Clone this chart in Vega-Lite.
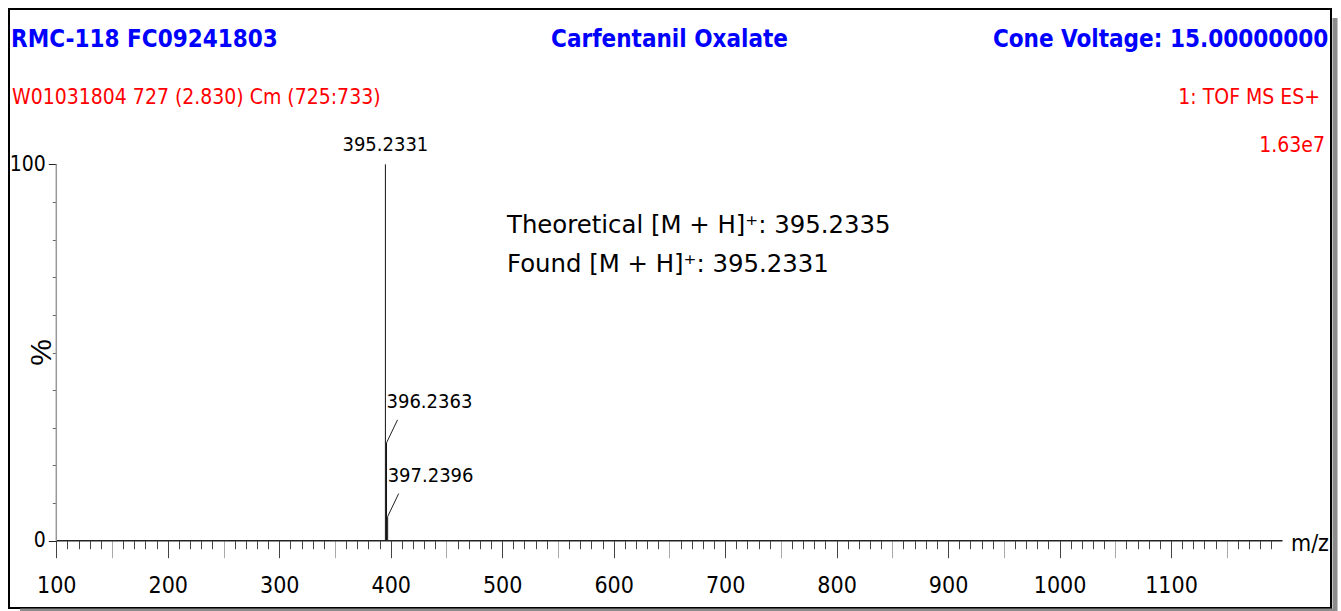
{
  "$schema": "https://vega.github.io/schema/vega-lite/v6.json",
  "width": 1322,
  "height": 599,
  "autosize": {"type": "none"},
  "padding": {"left": 9, "top": 9, "right": 10, "bottom": 3},
  "background": "white",
  "config": {"view": {"stroke": "black", "strokeWidth": 2}},
  "datasets": {
    "peaks": [
      {"mz": 395.2331, "intensity": 100, "label": "395.2331"},
      {"mz": 396.2363, "intensity": 26, "label": "396.2363"},
      {"mz": 397.2396, "intensity": 6.4, "label": "397.2396"}
    ]
  },
  "layer": [
    {
      "data": {"name": "peaks"},
      "mark": {"type": "rule", "color": "#111", "strokeWidth": 1},
      "encoding": {
        "x": {
          "field": "mz", "type": "quantitative",
          "scale": {"domain": [57.57, 1243.5], "nice": false, "zero": false},
          "axis": {
            "orient": "bottom", "offset": -67.3, "domain": false, "grid": false, "title": null,
            "tickCount": 300,
            "values": [100,110,120,130,140,150,160,170,180,190,200,210,220,230,240,250,260,270,280,290,300,310,320,330,340,350,360,370,380,390,400,410,420,430,440,450,460,470,480,490,500,510,520,530,540,550,560,570,580,590,600,610,620,630,640,650,660,670,680,690,700,710,720,730,740,750,760,770,780,790,800,810,820,830,840,850,860,870,880,890,900,910,920,930,940,950,960,970,980,990,1000,1010,1020,1030,1040,1050,1060,1070,1080,1090,1100,1110,1120,1130,1140,1150,1160,1170,1180,1190],
            "format": "d",
            "labelExpr": "datum.value % 100 === 0 ? datum.label : ''",
            "labelOverlap": false, "labelFlush": false, "labelBound": false,
            "labelFont": "DejaVu Sans Condensed, Liberation Sans Narrow, sans-serif",
            "labelFontSize": 23, "labelColor": "#000", "labelBaseline": "alphabetic", "labelPadding": 35,
            "tickSize": {"condition": {"test": "datum.value % 50 === 0", "value": 17}, "value": 8},
            "tickWidth": 1,
            "tickColor": {"condition": {"test": "datum.value % 50 === 0 && datum.value % 100 !== 0", "value": "#aaa"}, "value": "#444"}
          }
        },
        "y": {
          "field": "intensity", "type": "quantitative",
          "scale": {"domain": [-17.88, 141.26], "nice": false, "zero": false},
          "axis": {
            "orient": "left", "offset": -47.3, "domain": false, "grid": false, "title": null,
            "tickCount": 100,
            "values": [0,10,20,30,40,50,60,70,80,90,100],
            "format": "d",
            "labelExpr": "datum.value % 100 === 0 ? datum.label : ''",
            "labelOverlap": false, "labelFlush": false, "labelBound": false,
            "labelFont": "DejaVu Sans Condensed, Liberation Sans Narrow, sans-serif",
            "labelFontSize": 21, "labelColor": "#000", "labelBaseline": "middle", "labelPadding": 3,
            "tickSize": {"condition": {"test": "datum.value % 100 === 0", "value": 8}, "value": 4},
            "tickWidth": 1,
            "tickColor": {"condition": {"test": "datum.value % 100 === 0", "value": "#222"}, "value": "#666"}
          }
        },
        "y2": {"datum": 0}
      }
    },
    {
      "data": {"values": [{}]},
      "mark": {"type": "rule", "color": "#222", "strokeWidth": 1.5},
      "encoding": {
        "x": {"datum": 100, "type": "quantitative"},
        "x2": {"datum": 1200},
        "y": {"datum": 0, "type": "quantitative"}
      }
    },
    {
      "data": {"values": [{}]},
      "mark": {"type": "rule", "color": "#999", "strokeWidth": 1.5},
      "encoding": {
        "x": {"datum": 100, "type": "quantitative"},
        "y": {"datum": 0, "type": "quantitative"},
        "y2": {"datum": 100}
      }
    },
    {
      "data": {"values": [{}]},
      "mark": {"type": "rule", "color": "#8c8c8c", "strokeWidth": 5},
      "encoding": {
        "x": {"datum": 1247.1, "type": "quantitative"},
        "y": {"datum": 138.9, "type": "quantitative"},
        "y2": {"datum": -19.5}
      }
    },
    {
      "data": {"values": [{}]},
      "mark": {"type": "rule", "color": "#8c8c8c", "strokeWidth": 3},
      "encoding": {
        "x": {"datum": 67.4, "type": "quantitative"},
        "x2": {"datum": 1247.1},
        "y": {"datum": -18.41, "type": "quantitative"}
      }
    },
    {
      "data": {"name": "peaks"},
      "transform": [{"filter": "datum.intensity >= 100"}],
      "mark": {"type": "text", "align": "center", "baseline": "alphabetic", "dy": -13, "fontSize": 20, "color": "#000",
               "font": "DejaVu Sans Condensed, Liberation Sans Narrow, sans-serif"},
      "encoding": {
        "x": {"field": "mz", "type": "quantitative"},
        "y": {"field": "intensity", "type": "quantitative"},
        "text": {"field": "label"}
      }
    },
    {
      "data": {"name": "peaks"},
      "transform": [{"filter": "datum.intensity < 100"}],
      "mark": {"type": "text", "align": "left", "baseline": "alphabetic", "dx": 0, "dy": -35, "fontSize": 20, "color": "#000",
               "font": "DejaVu Sans Condensed, Liberation Sans Narrow, sans-serif"},
      "encoding": {
        "x": {"field": "mz", "type": "quantitative"},
        "y": {"field": "intensity", "type": "quantitative"},
        "text": {"field": "label"}
      }
    },
    {
      "data": {"name": "peaks"},
      "transform": [{"filter": "datum.intensity < 100"}],
      "mark": {"type": "rule", "color": "#222", "strokeWidth": 1, "x2Offset": 11, "y2Offset": -23},
      "encoding": {
        "x": {"field": "mz", "type": "quantitative"},
        "y": {"field": "intensity", "type": "quantitative"},
        "x2": {"field": "mz"},
        "y2": {"field": "intensity"}
      }
    },
    {
      "data": {"values": [{}]},
      "mark": {"type": "text", "text": "RMC-118 FC09241803", "align": "left", "baseline": "alphabetic", "fontSize": 24, "fontWeight": "bold", "color": "#0000FF",
               "font": "DejaVu Sans Condensed, Liberation Sans Narrow, sans-serif"},
      "encoding": {"x": {"datum": 59.4, "type": "quantitative"}, "y": {"datum": 131.1, "type": "quantitative"}}
    },
    {
      "data": {"values": [{}]},
      "mark": {"type": "text", "text": "Carfentanil Oxalate", "align": "center", "baseline": "alphabetic", "fontSize": 24, "fontWeight": "bold", "color": "#0000FF",
               "font": "DejaVu Sans Condensed, Liberation Sans Narrow, sans-serif"},
      "encoding": {"x": {"datum": 650.1, "type": "quantitative"}, "y": {"datum": 131.1, "type": "quantitative"}}
    },
    {
      "data": {"values": [{}]},
      "mark": {"type": "text", "text": "Cone Voltage: 15.00000000", "align": "right", "baseline": "alphabetic", "fontSize": 24, "fontWeight": "bold", "color": "#0000FF",
               "font": "DejaVu Sans Condensed, Liberation Sans Narrow, sans-serif"},
      "encoding": {"x": {"datum": 1241.1, "type": "quantitative"}, "y": {"datum": 131.1, "type": "quantitative"}}
    },
    {
      "data": {"values": [{}]},
      "mark": {"type": "text", "text": "W01031804 727 (2.830) Cm (725:733)", "align": "left", "baseline": "alphabetic", "fontSize": 21, "color": "#FF0000",
               "font": "DejaVu Sans Condensed, Liberation Sans Narrow, sans-serif"},
      "encoding": {"x": {"datum": 60.3, "type": "quantitative"}, "y": {"datum": 116.0, "type": "quantitative"}}
    },
    {
      "data": {"values": [{}]},
      "mark": {"type": "text", "text": "1: TOF MS ES+", "align": "right", "baseline": "alphabetic", "fontSize": 21, "color": "#FF0000",
               "font": "DejaVu Sans Condensed, Liberation Sans Narrow, sans-serif"},
      "encoding": {"x": {"datum": 1233.7, "type": "quantitative"}, "y": {"datum": 116.0, "type": "quantitative"}}
    },
    {
      "data": {"values": [{}]},
      "mark": {"type": "text", "text": "1.63e7", "align": "right", "baseline": "alphabetic", "fontSize": 21, "color": "#FF0000",
               "font": "DejaVu Sans Condensed, Liberation Sans Narrow, sans-serif"},
      "encoding": {"x": {"datum": 1238.1, "type": "quantitative"}, "y": {"datum": 103.35, "type": "quantitative"}}
    },
    {
      "data": {"values": [{}]},
      "mark": {"type": "text", "text": "Theoretical [M + H]⁺: 395.2335", "align": "left", "baseline": "alphabetic", "fontSize": 24.4, "color": "#000",
               "font": "DejaVu Sans, Verdana, sans-serif"},
      "encoding": {"x": {"datum": 504.3, "type": "quantitative"}, "y": {"datum": 81.8, "type": "quantitative"}}
    },
    {
      "data": {"values": [{}]},
      "mark": {"type": "text", "text": "Found [M + H]⁺: 395.2331", "align": "left", "baseline": "alphabetic", "fontSize": 24.4, "color": "#000",
               "font": "DejaVu Sans, Verdana, sans-serif"},
      "encoding": {"x": {"datum": 504.3, "type": "quantitative"}, "y": {"datum": 71.5, "type": "quantitative"}}
    },
    {
      "data": {"values": [{}]},
      "mark": {"type": "text", "text": "m/z", "align": "left", "baseline": "alphabetic", "fontSize": 23, "color": "#000",
               "font": "DejaVu Sans Condensed, Liberation Sans Narrow, sans-serif"},
      "encoding": {"x": {"datum": 1207.6, "type": "quantitative"}, "y": {"datum": -2.74, "type": "quantitative"}}
    },
    {
      "data": {"values": [{}]},
      "mark": {"type": "text", "text": "%", "align": "center", "baseline": "middle", "angle": 270, "fontSize": 30, "color": "#000",
               "font": "Liberation Sans, Arial, sans-serif"},
      "encoding": {"x": {"datum": 87.6, "type": "quantitative"}, "y": {"datum": 50, "type": "quantitative"}}
    }
  ]
}
